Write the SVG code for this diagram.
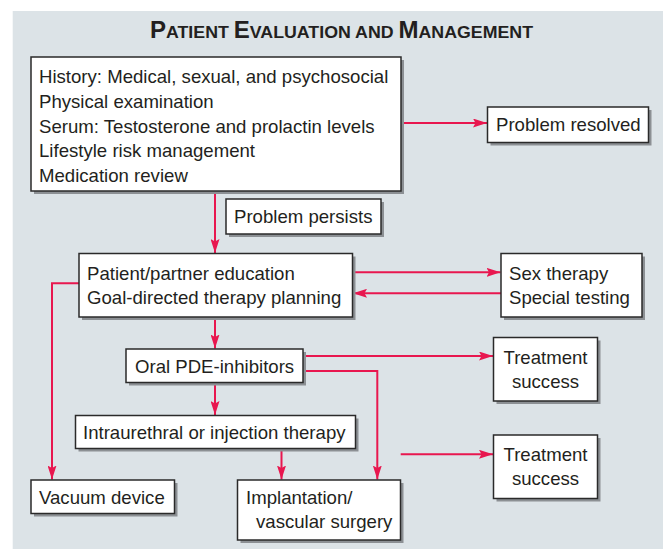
<svg xmlns="http://www.w3.org/2000/svg" width="663" height="549" viewBox="0 0 663 549">
<style>
.bx{fill:#ffffff;stroke:#2a2a2a;stroke-width:1.5}
.sh{fill:#8c9094}
.t{font-family:"Liberation Sans",Arial,sans-serif;font-size:18.6px;fill:#231f20}
.ti{font-family:"Liberation Sans",Arial,sans-serif;font-weight:bold;fill:#231f20}
.c{fill:none;stroke:#e8174f;stroke-width:2}
</style>
<defs>
<marker id="ah" markerWidth="14" markerHeight="9" refX="14" refY="4.5" orient="auto" markerUnits="userSpaceOnUse">
<path d="M0,0 L14,4.5 L0,9 L2.5,4.5 Z" fill="#e8174f"/>
</marker>
</defs>
<rect x="12.7" y="11" width="651" height="539" fill="#dce3e7"/>
<text class="ti" x="150" y="38" textLength="383" lengthAdjust="spacingAndGlyphs"><tspan font-size="23">P</tspan><tspan font-size="17">ATIENT </tspan><tspan font-size="23">E</tspan><tspan font-size="17">VALUATION AND </tspan><tspan font-size="23">M</tspan><tspan font-size="17">ANAGEMENT</tspan></text>

<g id="connectors">
<path class="c" d="M401,123 H487" marker-end="url(#ah)"/>
<path class="c" d="M215,191 V253" marker-end="url(#ah)"/>
<path class="c" d="M352.5,272.3 H500.5" marker-end="url(#ah)"/>
<path class="c" d="M501,293.3 H353" marker-end="url(#ah)"/>
<path class="c" d="M79,283.3 H52 V479.5" marker-end="url(#ah)"/>
<path class="c" d="M215,317 V348.5" marker-end="url(#ah)"/>
<path class="c" d="M303,356 H493" marker-end="url(#ah)"/>
<path class="c" d="M303,371 H377.3 V479.5" marker-end="url(#ah)"/>
<path class="c" d="M215,382.3 V415" marker-end="url(#ah)"/>
<path class="c" d="M281.5,448.5 V479.5" marker-end="url(#ah)"/>
<path class="c" d="M400.7,454.3 H493" marker-end="url(#ah)"/>
</g>

<g id="n-eval">
<rect class="sh" x="34" y="60" width="370" height="134"/>
<rect class="bx" x="31" y="57" width="370" height="134"/>
<text class="t" x="39" y="83">History: Medical, sexual, and psychosocial</text>
<text class="t" x="39" y="108">Physical examination</text>
<text class="t" x="39" y="133">Serum: Testosterone and prolactin levels</text>
<text class="t" x="39" y="157">Lifestyle risk management</text>
<text class="t" x="39" y="182">Medication review</text>
</g>
<g id="n-resolved">
<rect class="sh" x="490.5" y="110" width="161" height="35.5"/>
<rect class="bx" x="487.5" y="107" width="161" height="35.5"/>
<text class="t" x="496" y="131">Problem resolved</text>
</g>
<g id="n-persists">
<rect class="sh" x="229" y="202" width="155" height="35"/>
<rect class="bx" x="226" y="199" width="155" height="35"/>
<text class="t" x="234" y="222.5">Problem persists</text>
</g>
<g id="n-education">
<rect class="sh" x="82" y="256.5" width="273.5" height="63.5"/>
<rect class="bx" x="79" y="253.5" width="273.5" height="63.5"/>
<text class="t" x="87" y="280">Patient/partner education</text>
<text class="t" x="87" y="304">Goal-directed therapy planning</text>
</g>
<g id="n-sex">
<rect class="sh" x="504" y="256.5" width="141" height="63.5"/>
<rect class="bx" x="501" y="253.5" width="141" height="63.5"/>
<text class="t" x="509" y="280">Sex therapy</text>
<text class="t" x="509" y="304">Special testing</text>
</g>
<g id="n-oral">
<rect class="sh" x="129" y="352" width="177" height="33.5"/>
<rect class="bx" x="126" y="349" width="177" height="33.5"/>
<text class="t" x="135" y="373">Oral PDE-inhibitors</text>
</g>
<g id="n-success1">
<rect class="sh" x="496.5" y="340.5" width="104" height="63.5"/>
<rect class="bx" x="493.5" y="337.5" width="104" height="63.5"/>
<text class="t" x="545.5" y="364" text-anchor="middle">Treatment</text>
<text class="t" x="545.5" y="388" text-anchor="middle">success</text>
</g>
<g id="n-intra">
<rect class="sh" x="78.5" y="418.5" width="280" height="33"/>
<rect class="bx" x="75.5" y="415.5" width="280" height="33"/>
<text class="t" x="83" y="439">Intraurethral or injection therapy</text>
</g>
<g id="n-success2">
<rect class="sh" x="496.5" y="438" width="104" height="63.5"/>
<rect class="bx" x="493.5" y="435" width="104" height="63.5"/>
<text class="t" x="545.5" y="461" text-anchor="middle">Treatment</text>
<text class="t" x="545.5" y="485" text-anchor="middle">success</text>
</g>
<g id="n-vacuum">
<rect class="sh" x="34" y="483" width="143.5" height="33.5"/>
<rect class="bx" x="31" y="480" width="143.5" height="33.5"/>
<text class="t" x="39" y="503.5">Vacuum device</text>
</g>
<g id="n-implant">
<rect class="sh" x="240.5" y="483" width="163" height="60"/>
<rect class="bx" x="237.5" y="480" width="163" height="60"/>
<text class="t" x="246" y="503.5">Implantation/</text>
<text class="t" x="256" y="528">vascular surgery</text>
</g>
</svg>
